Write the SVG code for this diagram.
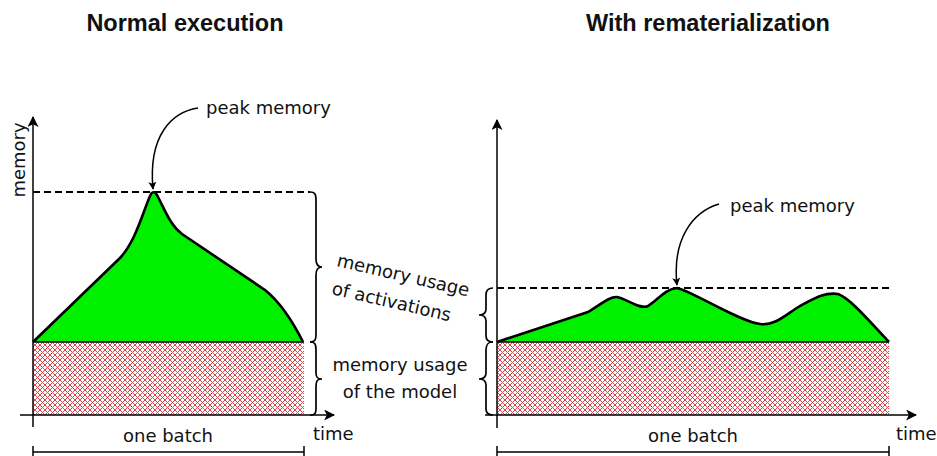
<svg xmlns="http://www.w3.org/2000/svg" width="937" height="456" viewBox="0 0 937 456">
<defs>
<pattern id="hatch" width="5" height="5" patternUnits="userSpaceOnUse">
<rect width="5" height="5" fill="#fff"/>
<path d="M-1 -1 L6 6 M6 -1 L-1 6" stroke="#e0454d" stroke-width="1"/>
</pattern>
<marker id="arr" viewBox="0 0 10 10" refX="9" refY="5" markerWidth="8" markerHeight="8" markerUnits="userSpaceOnUse" orient="auto">
<path d="M0 0 L10 5 L0 10 L2.5 5 Z" fill="#000"/>
</marker>
<marker id="arrBig" viewBox="0 0 10 10" refX="9" refY="5" markerWidth="11" markerHeight="11" markerUnits="userSpaceOnUse" orient="auto">
<path d="M0 0 L10 5 L0 10 L2.5 5 Z" fill="#000"/>
</marker>
</defs>
<style>
text{font-family:"DejaVu Sans",sans-serif;font-size:18px;fill:#111}
.title{font-family:"Liberation Sans",Arial,sans-serif;font-weight:bold;font-size:23.5px;text-anchor:middle}
.axis{stroke:#000;stroke-width:1.5;fill:none}
.curve{stroke:#000;stroke-width:2.6;fill:none;stroke-linejoin:round}
.base{stroke:#000;stroke-width:1.4}
.green{fill:#00f000;stroke:none}
.dash{stroke:#000;stroke-width:1.8;stroke-dasharray:7 4;fill:none}
.brace{stroke:#000;stroke-width:1.7;fill:none}
.thin{stroke:#000;stroke-width:1.5;fill:none}
</style>

<text class="title" x="185" y="31">Normal execution</text>
<text class="title" x="708" y="31">With rematerialization</text>

<g id="left-chart">
<rect x="33" y="342" width="271" height="73" fill="url(#hatch)"/>
<path class="green" d="M 33 342 L 120 258 C 135 242, 142 215, 150 196 Q 153 189, 157 195 C 165 210, 170 225, 182 234 L 265 290 C 280 302, 292 320, 303 342 Z"/>
<path class="curve" d="M 33 342 L 120 258 C 135 242, 142 215, 150 196 Q 153 189, 157 195 C 165 210, 170 225, 182 234 L 265 290 C 280 302, 292 320, 303 342"/>
<line class="base" x1="33" y1="342" x2="304" y2="342"/>
<path class="dash" d="M 33 192 L 310 192"/>
<path class="axis" d="M 33 427 L 33 117" marker-end="url(#arrBig)"/>
<path class="axis" d="M 20 415 L 334 415" marker-end="url(#arrBig)"/>
<text x="0" y="0" transform="translate(25,160) rotate(-90)" text-anchor="middle">memory</text>
<text x="313" y="440">time</text>
</g>

<g id="left-peak">
<text x="206" y="114">peak memory</text>
<path class="thin" d="M 198 108 C 172 112, 148 135, 153 189" marker-end="url(#arr)"/>
</g>

<g id="left-batch">
<text x="168" y="442" text-anchor="middle">one batch</text>
<path class="thin" d="M 33 452 L 304 452 M 33 446 L 33 458 M 304 446 L 304 458"/>
</g>

<g id="braces-left">
<path class="brace" d="M 310 192 C 315 192, 316 194, 316 200 L 316 259 C 316 265, 318 267, 322 267 C 318 267, 316 269, 316 275 L 316 334 C 316 340, 315 342, 310 342"/>
<path class="brace" d="M 310 342 C 315 342, 316 344, 316 350 L 316 373 C 316 378, 318 379, 322 379 C 318 379, 316 380, 316 386 L 316 408 C 316 414, 315 415, 310 415"/>
<text transform="translate(336,266) rotate(13)">memory usage</text>
<text transform="translate(331,294) rotate(13)">of activations</text>
<text x="400" y="371" text-anchor="middle">memory usage</text>
<text x="400" y="398" text-anchor="middle">of the model</text>
</g>

<g id="right-chart">
<rect x="497" y="342" width="392" height="73" fill="url(#hatch)"/>
<path class="green" d="M 497 342 L 588 312 C 600 305, 610 296, 617 297 C 625 298, 640 310, 648 306 C 658 300, 665 289, 677 288 C 690 290, 740 322, 760 324 C 775 326, 785 315, 800 306 C 815 298, 825 292, 838 294 C 850 298, 870 322, 889 342 Z"/>
<path class="curve" d="M 497 342 L 588 312 C 600 305, 610 296, 617 297 C 625 298, 640 310, 648 306 C 658 300, 665 289, 677 288 C 690 290, 740 322, 760 324 C 775 326, 785 315, 800 306 C 815 298, 825 292, 838 294 C 850 298, 870 322, 889 342"/>
<line class="base" x1="497" y1="342" x2="889" y2="342"/>
<path class="dash" d="M 497 288 L 889 288"/>
<path class="axis" d="M 497 428 L 497 120" marker-end="url(#arrBig)"/>
<path class="axis" d="M 485 415 L 916 415" marker-end="url(#arrBig)"/>
<text x="896" y="440">time</text>
</g>

<g id="right-peak">
<text x="730" y="212">peak memory</text>
<path class="thin" d="M 719 204 C 692 212, 672 240, 677 285" marker-end="url(#arr)"/>
</g>

<g id="right-batch">
<text x="693" y="442" text-anchor="middle">one batch</text>
<path class="thin" d="M 497 452 L 889 452 M 497 446 L 497 458 M 889 446 L 889 458"/>
</g>

<g id="braces-right">
<path class="brace" d="M 493 288 C 488 288, 486 290, 486 295 L 486 309 C 486 313, 484 315, 479 315 C 484 315, 486 317, 486 321 L 486 336 C 486 340, 488 342, 493 342"/>
<path class="brace" d="M 493 342 C 488 342, 486 344, 486 350 L 486 373 C 486 377, 484 379, 479 379 C 484 379, 486 381, 486 385 L 486 409 C 486 413, 488 415, 493 415"/>
</g>
</svg>
